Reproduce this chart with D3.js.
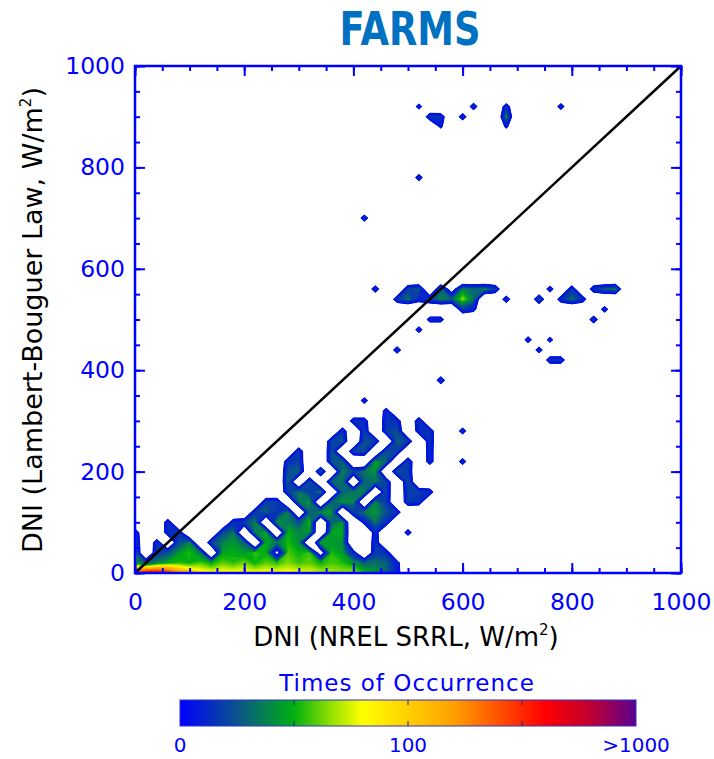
<!DOCTYPE html>
<html>
<head>
<meta charset="utf-8">
<script src="https://cdn.jsdelivr.net/npm/d3@7"></script>
<style>
  body { margin: 0; background: #fff; }
  svg text { font-family: "DejaVu Sans", sans-serif; }
</style>
</head>
<body>
<svg id="chart" width="714" height="759"></svg>
<script>
// bin size of the 2-D histogram (W/m2)
const binSize = 20;

// counts for the dense low part: rows y = 0,20,...,340 ; columns x = 0,20,...,600
const lowCounts = [
  [300,500,500,350,200,130,95,88,88,88,86,86,86,86,85,85,80,75,72,70,75,55,45,30,12,0,0,0,0,0,0],
  [45,25,40,50,55,52,60,50,62,56,64,52,62,56,66,58,62,52,60,55,45,30,35,30,10,0,0,0,0,0,0],
  [35,0,18,25,45,55,35,0,48,50,45,58,50,3,60,52,58,2,55,45,12,0,18,15,0,0,0,0,0,0,0],
  [28,0,15,0,22,40,0,20,38,45,30,0,50,35,55,42,0,50,45,42,0,0,15,0,0,0,0,0,0,0,0],
  [18,0,0,14,15,0,0,0,22,35,0,38,48,0,52,40,45,0,48,50,0,0,12,0,0,14,0,0,0,0,0],
  [0,0,0,14,0,0,0,0,0,14,20,40,0,45,38,25,55,0,30,45,0,10,35,15,0,0,0,0,0,0,0],
  [0,0,0,0,0,0,0,0,0,0,0,18,30,15,40,0,30,45,45,0,20,35,45,25,14,0,0,0,0,0,0],
  [0,0,0,0,0,0,0,0,0,0,0,0,20,20,0,35,45,0,30,45,40,0,40,18,0,18,14,0,0,0,0],
  [0,0,0,0,0,0,0,0,0,0,0,0,0,0,20,35,20,40,0,30,35,40,0,20,0,20,18,14,0,0,0],
  [0,0,0,0,0,0,0,0,0,0,0,0,0,0,30,0,25,0,30,35,0,30,35,20,0,25,0,0,0,0,0],
  [0,0,0,0,0,0,0,0,0,0,0,0,0,0,25,30,0,30,0,40,20,35,45,0,30,18,0,0,0,0,0],
  [0,0,0,0,0,0,0,0,0,0,0,0,0,0,15,20,0,0,25,30,0,0,50,30,0,20,0,14,0,0,14],
  [0,0,0,0,0,0,0,0,0,0,0,0,0,0,0,18,0,0,25,0,20,25,0,25,20,0,0,14,0,0,0],
  [0,0,0,0,0,0,0,0,0,0,0,0,0,0,0,0,0,0,20,25,0,25,18,0,30,18,0,16,0,0,0],
  [0,0,0,0,0,0,0,0,0,0,0,0,0,0,0,0,0,0,0,16,0,18,0,18,25,0,14,16,0,0,14],
  [0,0,0,0,0,0,0,0,0,0,0,0,0,0,0,0,0,0,0,0,14,14,0,16,14,0,18,0,0,0,0],
  [0,0,0,0,0,0,0,0,0,0,0,0,0,0,0,0,0,0,0,0,0,0,0,12,0,0,0,0,0,0,0],
  [0,0,0,0,0,0,0,0,0,0,0,0,0,0,0,0,0,0,0,0,0,14,0,0,0,0,0,0,0,0,0]
];

// scattered cells higher up: [x, y, count]
const sparseCells = [
  [560,380,18], [480,440,16], [520,480,14], [540,500,12], [560,500,12],
  [720,460,14], [740,440,14], [760,460,12], [760,420,16], [780,420,16],
  [840,500,18], [860,520,14],
  [440,560,16], [480,540,16], [500,540,35], [500,560,20], [520,540,12],
  [520,560,28], [540,540,20], [560,540,40], [560,560,30], [580,540,30],
  [580,560,2], [600,540,70], [600,560,40], [620,540,35], [620,560,30],
  [600,520,20], [620,520,10], [640,560,40], [660,560,20],
  [680,540,16], [740,540,30], [760,560,14], [780,540,14],
  [800,560,16], [800,540,35], [820,540,14],
  [840,560,16], [860,560,28], [880,560,40],
  [420,700,15], [520,780,15],
  [520,920,12], [540,900,18], [560,900,16], [560,880,8], [600,900,16],
  [620,920,16], [680,900,45], [680,920,14], [680,880,8], [780,920,14]
];

const majorTicks = [0, 200, 400, 600, 800, 1000];
const minorTicks = d3.range(0, 1001, 50);
const diagValues = [0, 1000];

// colour bar
const cbarPos = [0, 0.12, 0.25, 0.33, 0.40, 0.50, 0.60, 0.68, 0.80, 0.90, 1];
const cbarColors = ["#0000ff", "#0a5090", "#00b010", "#90e000", "#ffff00", "#ffd000",
                    "#ffa000", "#ff6000", "#ff0000", "#c00030", "#5a0090"];
const cbarLabels = ["0", "100", ">1000"];
const cbarLabelPos = [0, 0.5, 1];
const cbarTickPos = [0.25, 0.5, 0.75];

const blue = "#0000ff";
const svg = d3.select("#chart");

const x = d3.scaleLinear().domain([0, 1000]).range([135, 681]);
const y = d3.scaleLinear().domain([0, 1000]).range([573, 66]);

const colorAt = d3.scaleLinear().domain(cbarPos).range(cbarColors).interpolate(d3.interpolateRgb);
const linPos = d3.scaleLinear().domain([0, 100]).range([0, 0.5]);
const logPos = d3.scaleLog().domain([100, 1000]).range([0.5, 1]).clamp(true);
function countColor(n) { return colorAt(n <= 100 ? linPos(n) : logPos(n)); }

// build the grid
const nx = 50, ny = 50;
const counts = new Array(nx * ny).fill(0);
lowCounts.forEach((row, j) => row.forEach((n, i) => { counts[j * nx + i] = n; }));
sparseCells.forEach(([cx, cy, n]) => { counts[(cy / binSize) * nx + cx / binSize] = n; });
const field = counts.map(n => Math.log10(1 + n));

const thresholds = d3.range(Math.log10(6), 3.0, 0.025);
const contours = d3.contours().size([nx, ny]).smooth(true).thresholds(thresholds)(field);

const proj = d3.geoTransform({
  point: function(gx, gy) {
    this.stream.point(x((gx - 0.5) * binSize), y((gy - 0.5) * binSize));
  }
});
const path = d3.geoPath(proj);

svg.append("defs").append("clipPath").attr("id", "clip")
  .append("rect")
    .attr("x", x(0)).attr("y", y(1000))
    .attr("width", x(1000) - x(0)).attr("height", y(0) - y(1000));

svg.append("g")
    .attr("clip-path", "url(#clip)")
  .selectAll("path")
  .data(contours)
  .join("path")
    .attr("d", path)
    .attr("fill", d => countColor(Math.pow(10, d.value) - 1));

// 1:1 line
svg.append("path")
  .datum(diagValues)
  .attr("fill", "none")
  .attr("stroke", "#000")
  .attr("stroke-width", 2.5)
  .attr("d", d3.line().x(d => x(d)).y(d => y(d)));

// axes, ticks pointing inward on all four sides
function styleAxis(g) {
  g.select(".domain").remove();
  g.selectAll(".tick line").attr("stroke", blue).attr("stroke-width", 2);
  g.selectAll(".tick text").attr("fill", blue).attr("font-size", 23.5)
    .attr("font-family", "DejaVu Sans, sans-serif");
}
const none = () => "";
const fmt = d3.format("d");

svg.append("g").attr("transform", `translate(0,${y(0)})`)
  .call(d3.axisBottom(x).tickValues(minorTicks).tickSize(-5).tickFormat(none)).call(styleAxis);
svg.append("g").attr("transform", `translate(0,${y(0)})`)
  .call(d3.axisBottom(x).tickValues(majorTicks).tickSize(-10).tickPadding(20).tickFormat(fmt)).call(styleAxis);
svg.append("g").attr("transform", `translate(0,${y(1000)})`)
  .call(d3.axisTop(x).tickValues(minorTicks).tickSize(-5).tickFormat(none)).call(styleAxis);
svg.append("g").attr("transform", `translate(0,${y(1000)})`)
  .call(d3.axisTop(x).tickValues(majorTicks).tickSize(-10).tickFormat(none)).call(styleAxis);
svg.append("g").attr("transform", `translate(${x(0)},0)`)
  .call(d3.axisLeft(y).tickValues(minorTicks).tickSize(-5).tickFormat(none)).call(styleAxis);
svg.append("g").attr("transform", `translate(${x(0)},0)`)
  .call(d3.axisLeft(y).tickValues(majorTicks).tickSize(-10).tickPadding(10).tickFormat(fmt)).call(styleAxis);
svg.append("g").attr("transform", `translate(${x(1000)},0)`)
  .call(d3.axisRight(y).tickValues(minorTicks).tickSize(-5).tickFormat(none)).call(styleAxis);
svg.append("g").attr("transform", `translate(${x(1000)},0)`)
  .call(d3.axisRight(y).tickValues(majorTicks).tickSize(-10).tickFormat(none)).call(styleAxis);

svg.append("rect")
  .attr("x", x(0)).attr("y", y(1000))
  .attr("width", x(1000) - x(0)).attr("height", y(0) - y(1000))
  .attr("fill", "none").attr("stroke", blue).attr("stroke-width", 2.5);

// titles
svg.append("text")
  .attr("transform", "translate(410,45) scale(0.8,1)")
  .attr("text-anchor", "middle")
  .attr("font-family", "Liberation Sans, Arial, sans-serif")
  .attr("font-weight", "bold")
  .attr("font-size", 46)
  .attr("fill", "#0070c0")
  .text("FARMS");

const xt = svg.append("text")
  .attr("x", 406).attr("y", 646)
  .attr("text-anchor", "middle").attr("font-size", 26).attr("fill", "#000");
xt.append("tspan").text("DNI (NREL SRRL, W/m");
xt.append("tspan").attr("font-size", 15).attr("dy", -11).text("2");
xt.append("tspan").attr("dy", 11).text(")");

const yt = svg.append("text")
  .attr("transform", "translate(42,320) rotate(-90)")
  .attr("text-anchor", "middle").attr("font-size", 27).attr("fill", "#000");
yt.append("tspan").text("DNI (Lambert-Bouguer Law, W/m");
yt.append("tspan").attr("font-size", 15).attr("dy", -11).text("2");
yt.append("tspan").attr("dy", 11).text(")");

// colour bar
const cb = d3.scaleLinear().domain([0, 1]).range([180, 636]);
const cbTop = 700, cbH = 26;
const grad = svg.select("defs").append("linearGradient").attr("id", "cbar");
grad.selectAll("stop").data(cbarPos).join("stop")
  .attr("offset", d => d * 100 + "%")
  .attr("stop-color", (d, i) => cbarColors[i]);
svg.append("rect")
  .attr("x", cb(0)).attr("y", cbTop).attr("width", cb(1) - cb(0)).attr("height", cbH)
  .attr("fill", "url(#cbar)").attr("stroke", "#3030d0").attr("stroke-width", 1);
svg.append("g").selectAll("line").data(cbarTickPos).join("line")
  .attr("x1", d => cb(d)).attr("x2", d => cb(d))
  .attr("y1", cbTop).attr("y2", cbTop + 5)
  .attr("stroke", "#202090").attr("stroke-width", 1);
svg.append("g").selectAll("line").data(cbarTickPos).join("line")
  .attr("x1", d => cb(d)).attr("x2", d => cb(d))
  .attr("y1", cbTop + cbH - 5).attr("y2", cbTop + cbH)
  .attr("stroke", "#202090").attr("stroke-width", 1);
svg.append("text")
  .attr("x", 407).attr("y", 691)
  .attr("text-anchor", "middle").attr("font-size", 23).attr("letter-spacing", 1)
  .attr("fill", blue)
  .text("Times of Occurrence");
svg.append("g").selectAll("text").data(cbarLabels).join("text")
  .attr("x", (d, i) => cb(cbarLabelPos[i]))
  .attr("y", 752)
  .attr("text-anchor", "middle").attr("font-size", 20)
  .attr("fill", blue)
  .text(d => d);
</script>
</body>
</html>
